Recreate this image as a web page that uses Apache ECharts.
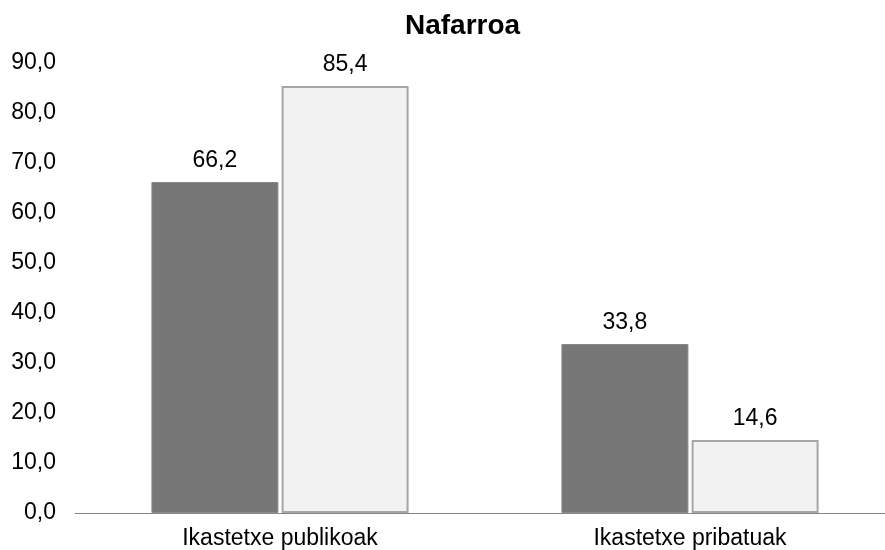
<!DOCTYPE html>
<html><head><meta charset="utf-8">
<script src="https://cdn.jsdelivr.net/npm/echarts@6/dist/echarts.min.js"></script>
<style>html,body{margin:0;padding:0;background:#fff;overflow:hidden}#c{width:895px;height:550px}</style>
</head><body><div id="c"></div>
<script>
var categories = ['Ikastetxe publikoak', 'Ikastetxe pribatuak'];
var seriesA = [66.2, 33.8];
var seriesB = [85.4, 14.6];
var yTicks = {min: 0, max: 90, interval: 10};

function fmt(v){ return Number(v).toFixed(1).replace('.', ','); }
var chart = echarts.init(document.getElementById('c'), null, {renderer:'canvas'});
var font = 'Liberation Sans, Arial, sans-serif';
chart.setOption({
  animation: false,
  title: {text: 'Nafarroa', left: 400, top: 7,
    textStyle: {fontFamily: font, fontWeight: 'bold', fontSize: 28, color: '#000'}},
  grid: {left: 75, right: 0, top: 63, height: 450},
  xAxis: {type: 'category', data: categories,
    axisLine: {lineStyle: {color: '#868686', width: 1}},
    axisTick: {show: false},
    axisLabel: {color: '#000', fontFamily: font, fontSize: 23, margin: 14}},
  yAxis: {type: 'value', min: yTicks.min, max: yTicks.max, interval: yTicks.interval,
    axisLine: {show: false}, axisTick: {show: false}, splitLine: {show: false},
    axisLabel: {color: '#000', fontFamily: font, fontSize: 23, margin: 19, formatter: fmt}},
  series: [
    {type: 'bar', data: seriesA, barWidth: 127, barGap: '2.5%',
     itemStyle: {color: '#777777', borderColor: '#8a8a8a', borderWidth: 1},
     label: {show: true, position: 'top', distance: 10, color: '#000', fontFamily: font, fontSize: 23,
       formatter: function(p){ return fmt(p.value); }}},
    {type: 'bar', data: seriesB, barWidth: 127,
     itemStyle: {color: '#f2f2f2', borderColor: '#a6a6a6', borderWidth: 2},
     label: {show: true, position: 'top', distance: 10, color: '#000', fontFamily: font, fontSize: 23,
       formatter: function(p){ return fmt(p.value); }}}
  ]
});
</script></body></html>
